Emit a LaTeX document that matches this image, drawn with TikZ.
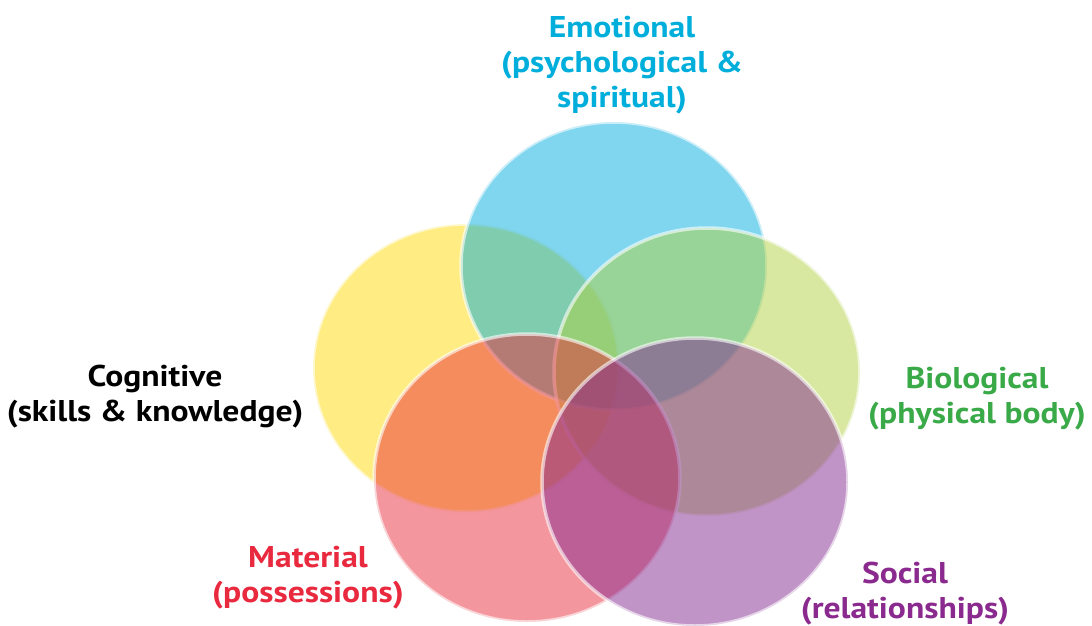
\documentclass[tikz,border=0pt]{standalone}
\usepackage{fontspec}
\setmainfont{PT Sans}[FakeStretch=1.12]
\definecolor{cyanT}{RGB}{0,174,219}
\definecolor{greenT}{RGB}{58,170,73}
\definecolor{redT}{RGB}{232,41,62}
\definecolor{purpleT}{RGB}{139,42,142}
\definecolor{fillY}{RGB}{255,217,5}
\definecolor{fillB}{RGB}{1,173,221}
\definecolor{fillG}{RGB}{177,209,65}
\definecolor{fillR}{RGB}{233,45,59}
\definecolor{fillP}{RGB}{131,41,145}
\tikzset{
  blob/.style={ellipse, minimum width=306pt, minimum height=288pt, inner sep=0pt,
    draw=white, line width=3.5pt, fill opacity=0.5, draw opacity=0.6},
  lab/.style={align=center, font=\fontsize{30}{35}\selectfont\bfseries, inner sep=0pt}
}
\usetikzlibrary{shapes.geometric}
\begin{document}
\begin{tikzpicture}[x=1pt,y=-1pt]
\useasboundingbox (0,0) rectangle (1092,626);
\node[blob, fill=fillY] (cog) at (466,368) {};
\node[blob, fill=fillB] (emo) at (614,266) {};
\node[blob, fill=fillG] (bio) at (707,372) {};
\node[blob, fill=fillR] (mat) at (527,478) {};
\node[blob, fill=fillP] (soc) at (695,482) {};
\node[lab, text=cyanT] (emoL) at (622,65) {Emotional\\(psychological \&\\spiritual)};
\node[lab, text=black] (cogL) at (155,397) {Cognitive\\(skills \& knowledge)};
\node[lab, text=greenT] (bioL) at (977,399) {Biological\\(physical body)};
\node[lab, text=redT] (matL) at (308,578) {Material\\(possessions)};
\node[lab, text=purpleT] (socL) at (905,594) {Social\\(relationships)};
\end{tikzpicture}
\end{document}
